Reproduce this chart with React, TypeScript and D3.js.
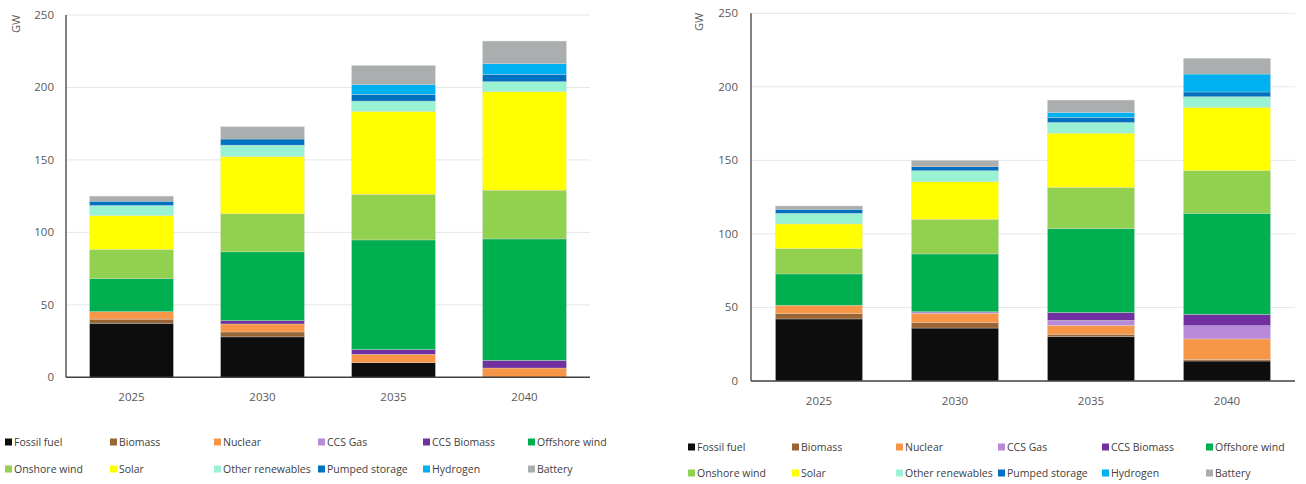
import React from "react";
import * as d3 from "d3";

const years = ["2025", "2030", "2035", "2040"];
const yTicks = [0, 50, 100, 150, 200, 250];

const technologies = [
  "Fossil fuel",
  "Biomass",
  "Nuclear",
  "CCS Gas",
  "CCS Biomass",
  "Offshore wind",
  "Onshore wind",
  "Solar",
  "Other renewables",
  "Pumped storage",
  "Hydrogen",
  "Battery",
];

const colors = [
  "#0d0d0d",
  "#9a6535",
  "#f79646",
  "#b88ad8",
  "#7030a0",
  "#00b050",
  "#92d050",
  "#ffff00",
  "#99f2d2",
  "#0070c0",
  "#00b0f0",
  "#abaeae",
];

// GW per technology (rows follow `technologies`), columns follow `years`
const leftValues: number[][] = [
  [37.3, 27.9, 10.1, 0],
  [2.8, 3.4, 0, 0],
  [5.2, 5.5, 5.8, 6.4],
  [0, 0, 0, 0],
  [0, 2.3, 3.2, 5.3],
  [22.8, 47.5, 75.7, 83.8],
  [20.1, 26.2, 31.4, 33.6],
  [23.4, 39.6, 57.3, 68.0],
  [7.0, 7.8, 7.1, 6.9],
  [2.9, 4.2, 4.6, 5.0],
  [0, 0, 6.9, 7.4],
  [3.5, 8.5, 13.1, 15.6],
];

const rightValues: number[][] = [
  [42.2, 36.0, 30.1, 13.6],
  [3.6, 3.7, 1.6, 0.9],
  [5.7, 6.3, 6.1, 14.1],
  [0, 0.5, 3.4, 9.0],
  [0, 0.6, 5.4, 7.7],
  [21.3, 39.3, 57.1, 68.7],
  [17.2, 23.5, 27.9, 29.0],
  [16.8, 25.6, 36.9, 43.1],
  [7.2, 7.5, 7.3, 7.2],
  [2.7, 2.7, 3.4, 3.2],
  [0, 0, 3.4, 12.2],
  [2.3, 4.3, 8.4, 10.7],
];

const FONT = "'Open Sans', sans-serif";

type PanelProps = {
  values: number[][];
  x0: number;
  x1: number;
  yTop: number;
  yBottom: number;
  tickRight: number;
  unitX: number;
  unitY: number;
  xLabelY: number;
  legendX: number[];
  legendRows: number[];
};

function Panel({
  values,
  x0,
  x1,
  yTop,
  yBottom,
  tickRight,
  unitX,
  unitY,
  xLabelY,
  legendX,
  legendRows,
}: PanelProps) {
  const x = d3
    .scaleBand<string>()
    .domain(years)
    .range([x0, x1])
    .paddingInner(0.36)
    .paddingOuter(0.18);
  const y = d3.scaleLinear().domain([0, 250]).range([yBottom, yTop]);

  const rows = years.map((yr, i) => {
    const r: Record<string, number | string> = { year: yr };
    technologies.forEach((t, k) => (r[t] = values[k][i]));
    return r;
  });
  const series = d3
    .stack<Record<string, number | string>>()
    .keys(technologies)
    .value((d, key) => d[key] as number)(rows);

  return (
    <g>
      {yTicks.slice(1).map((t) => (
        <line
          key={"g" + t}
          x1={x0}
          x2={x1}
          y1={y(t)}
          y2={y(t)}
          stroke="#e6e6e6"
          strokeWidth={1}
        />
      ))}
      {series.map((s, k) =>
        s.map((d, i) => {
          const h = y(d[0]) - y(d[1]);
          if (h <= 0) return null;
          return (
            <rect
              key={k + "-" + i}
              x={x(years[i])}
              y={y(d[1])}
              width={x.bandwidth()}
              height={h}
              fill={colors[k]}
              stroke="#d8d8d8"
              strokeOpacity={0.55}
              strokeWidth={0.6}
            />
          );
        })
      )}
      <line x1={x0} x2={x0} y1={yTop} y2={yBottom} stroke="#595959" strokeWidth={1.5} />
      <line x1={x0} x2={x1} y1={yBottom} y2={yBottom} stroke="#404040" strokeWidth={1.5} />
      {yTicks.map((t) => (
        <text
          key={"t" + t}
          x={tickRight}
          y={y(t)}
          dy="0.35em"
          textAnchor="end"
          fontSize={11.5}
          fill="#595959"
          fontFamily={FONT}
        >
          {t}
        </text>
      ))}
      <text
        transform={`translate(${unitX},${unitY}) rotate(-90)`}
        textAnchor="middle"
        dy="0.35em"
        fontSize={11}
        fill="#595959"
        fontFamily={FONT}
      >
        GW
      </text>
      {years.map((yr) => (
        <text
          key={"x" + yr}
          x={(x(yr) as number) + x.bandwidth() / 2}
          y={xLabelY}
          dy="0.35em"
          textAnchor="middle"
          fontSize={11.5}
          fill="#595959"
          fontFamily={FONT}
        >
          {yr}
        </text>
      ))}
      {technologies.map((t, k) => {
        const col = k % 6;
        const row = Math.floor(k / 6);
        const lx = legendX[col];
        const ly = legendRows[row];
        return (
          <g key={"l" + t}>
            <rect x={lx} y={ly - 3.5} width={7} height={7} fill={colors[k]} />
            <text
              x={lx + 9}
              y={ly}
              dy="0.35em"
              fontSize={10.5}
              fill="#404040"
              fontFamily={FONT}
            >
              {t}
            </text>
          </g>
        );
      })}
    </g>
  );
}

export default function App() {
  return (
    <svg
      width={1306}
      height={484}
      style={{ position: "absolute", left: 0, top: 0, background: "#fff" }}
    >
      <Panel
        values={leftValues}
        x0={66}
        x1={590}
        yTop={15}
        yBottom={377.3}
        tickRight={54}
        unitX={16}
        unitY={24}
        xLabelY={397}
        legendX={[5, 110, 214, 318, 423, 528]}
        legendRows={[442, 469]}
      />
      <Panel
        values={rightValues}
        x0={751}
        x1={1295}
        yTop={13.3}
        yBottom={381}
        tickRight={738}
        unitX={699}
        unitY={22}
        xLabelY={401}
        legendX={[688, 792, 896, 998, 1102, 1206]}
        legendRows={[447, 473]}
      />
    </svg>
  );
}
